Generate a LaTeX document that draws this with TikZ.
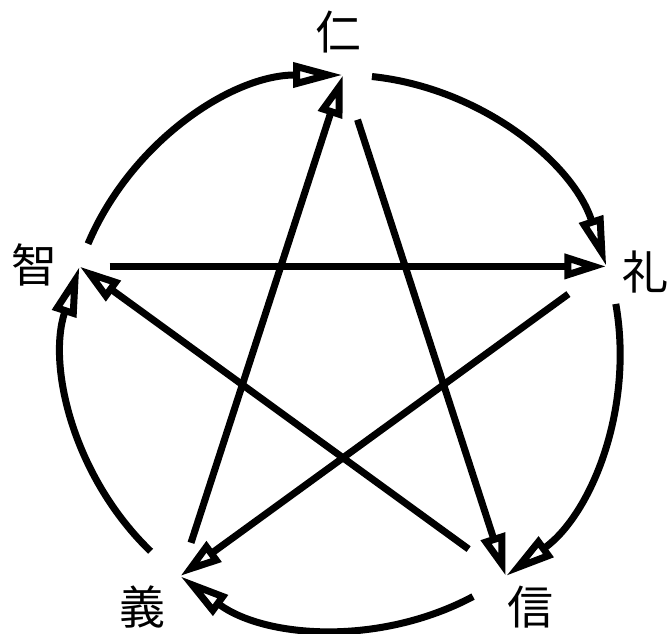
\documentclass[tikz,border=0pt]{standalone}
\usepackage{fontspec}
\newfontfamily\cjk{Noto Sans CJK JP}
\usetikzlibrary{arrows.meta,calc}
\begin{document}
\begin{tikzpicture}[x=1pt,y=1pt,
  link/.style={line width=7pt, -{Triangle[open,length=42pt,width=24pt]}},
  ring/.style={line width=7pt, -{Triangle[open,length=50pt,width=24pt]}},
  lbl/.style={font=\cjk\fontsize{46}{46}\selectfont, inner sep=0pt}]
\useasboundingbox (0,0) rectangle (669,-633);
\coordinate (c) at (343,-352);
% vertices
\coordinate (vren) at ([shift={(90:277)}]c);
\coordinate (vli)  at ([shift={(18:277)}]c);
\coordinate (vxin) at ([shift={(-54:277)}]c);
\coordinate (vyi)  at ([shift={(-126:277)}]c);
\coordinate (vzhi) at ([shift={(162:277)}]c);
% labels
\node[lbl] (ren) at (338,-32) {仁};
\node[lbl] (li)  at (645,-272) {礼};
\node[lbl] (xin) at (530,-607) {信};
\node[lbl] (yi)  at (142,-607) {義};
\node[lbl] (zhi) at (34,-265) {智};
% arc starts
\coordinate (a1) at ([shift={(84:277)}]c);
\coordinate (a2) at ([shift={(10:277)}]c);
\coordinate (a3) at ([shift={(-62:277)}]c);
\coordinate (a4) at ([shift={(226:277)}]c);
\coordinate (a5) at ([shift={(157:277)}]c);
% ring arcs
\draw[ring] (a1) arc[start angle=84, end angle=18, radius=277pt];
\draw[ring] (a2) arc[start angle=10, end angle=-54, radius=277pt];
\draw[ring] (a3) arc[start angle=-62, end angle=-126, radius=277pt];
\draw[ring] (a4) arc[start angle=226, end angle=162, radius=277pt];
\draw[ring] (a5) arc[start angle=157, end angle=90, radius=277pt];
% chord starts
\coordinate (s1) at ($(vren)!47pt!(vxin)$);
\coordinate (s2) at ($(vxin)!46pt!(vzhi)$);
\coordinate (s3) at ($(vzhi)!30pt!(vli)$);
\coordinate (s4) at ($(vli)!47pt!(vyi)$);
\coordinate (s5) at ($(vyi)!35pt!(vren)$);
% star chords
\draw[link] (s1) -- (vxin);
\draw[link] (s2) -- (vzhi);
\draw[link] (s3) -- (vli);
\draw[link] (s4) -- (vyi);
\draw[link] (s5) -- (vren);
\end{tikzpicture}
\end{document}
